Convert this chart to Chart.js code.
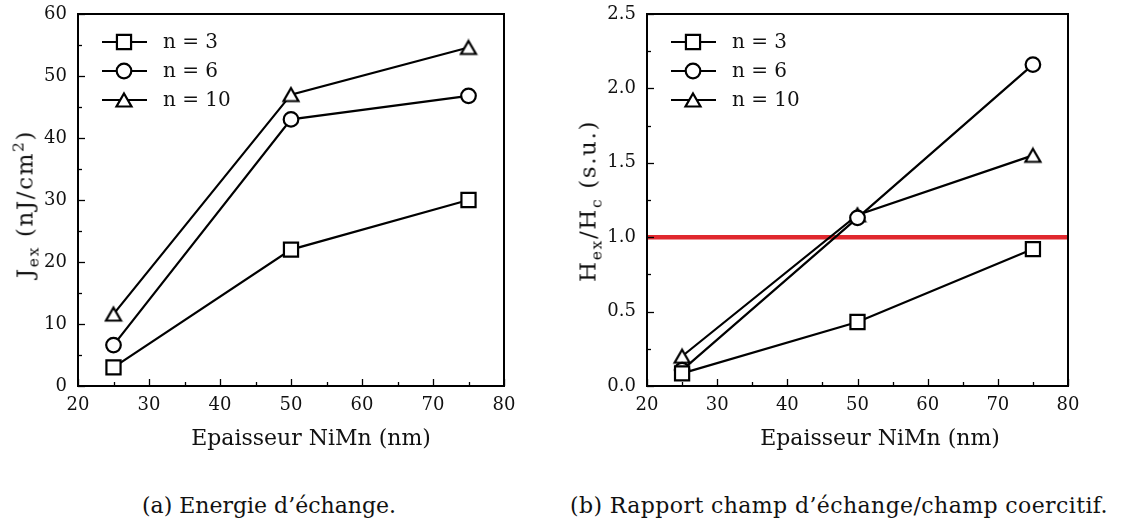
<!DOCTYPE html>
<html>
<head>
<meta charset="utf-8">
<script src="https://cdn.jsdelivr.net/npm/chart.js@4.4.1/dist/chart.umd.min.js"></script>
<style>
  body { margin: 0; background: #fff; width: 1122px; height: 524px; position: relative; overflow: hidden;
         font-family: "DejaVu Serif", "Liberation Serif", serif; color: #111; }
  .panel { position: absolute; top: 0; width: 561px; height: 460px; }
  .lbl { position: absolute; font-size: 22px; white-space: nowrap; line-height: 1;
         transform: translate(-50%, -50%); }
  .ylbl { transform: translate(-50%, -50%) rotate(-90deg); font-size: 23px; letter-spacing: 1.6px; }
  sub, sup { font-size: 0.68em; line-height: 0; }
</style>
</head>
<body>
<canvas id="chartA" class="panel" style="left:0" width="561" height="460"></canvas>
<canvas id="chartB" class="panel" style="left:561px" width="561" height="460"></canvas>

<div class="lbl ylbl" style="left:25px; top:204px">J<sub>ex</sub> (nJ/cm<sup>2</sup>)</div>
<div class="lbl ylbl" style="left:588px; top:201px">H<sub>ex</sub>/H<sub>c</sub> (s.u.)</div>
<div class="lbl" style="left:311px; top:438px">Epaisseur NiMn (nm)</div>
<div class="lbl" style="left:880px; top:438px">Epaisseur NiMn (nm)</div>
<div class="lbl" style="left:269px; top:506px">(a) Energie d’échange.</div>
<div class="lbl" style="left:839px; top:506px; letter-spacing:0.4px">(b) Rapport champ d’échange/champ coercitif.</div>

<script>
// --- data ---
const thickness = [25, 50, 75];            // Epaisseur NiMn (nm)
const seriesNames = ["n = 3", "n = 6", "n = 10"];

const jexN3 = [3.0, 22.0, 30.0];           // nJ/cm2
const jexN6 = [6.6, 43.0, 46.8];
const jexN10 = [11.6, 47.0, 54.6];

const ratioN3 = [0.085, 0.43, 0.92];       // Hex/Hc
const ratioN6 = [0.107, 1.13, 2.16];
const ratioN10 = [0.20, 1.15, 1.55];
const ratioLimit = 1.0;

const xTicks = [20, 30, 40, 50, 60, 70, 80];
const xMinorTicks = [25, 35, 45, 55, 65, 75];
const jexTicks = [0, 10, 20, 30, 40, 50, 60];
const jexMinorTicks = [5, 15, 25, 35, 45, 55];
const ratioTicks = [0, 0.5, 1.0, 1.5, 2.0, 2.5];
const ratioMinorTicks = [0.25, 0.75, 1.25, 1.75, 2.25];

const FONT = "'DejaVu Serif', 'Liberation Serif', serif";
const INK = "#111";

// triangle marker centred on its bounding box (like the original plot)
function triangleMarker() {
  const c = document.createElement("canvas");
  c.width = 20; c.height = 18;
  const g = c.getContext("2d");
  g.beginPath();
  g.moveTo(10, 2.5); g.lineTo(17.5, 15.5); g.lineTo(2.5, 15.5); g.closePath();
  g.fillStyle = "#fff"; g.fill();
  g.lineWidth = 2.2; g.strokeStyle = "#000"; g.lineJoin = "miter"; g.stroke();
  return c;
}
const markers = [
  { pointStyle: "rect", radius: 10 },
  { pointStyle: "circle", radius: 7.3 },
  { pointStyle: triangleMarker(), radius: 8 },
];

// === plugins: frame with inward ticks, legend inside plot ===

const framePlugin = {
  id: "frame",
  afterDatasetsDraw(chart, args, opts) {
    const { ctx, chartArea: a, scales } = chart;
    ctx.save();
    ctx.strokeStyle = "#000";
    ctx.lineWidth = 2;
    ctx.strokeRect(a.left, a.top, a.right - a.left, a.bottom - a.top);
    ctx.lineWidth = 1.3;
    const tick = (vals, len, axis) => {
      vals.forEach((v) => {
        ctx.beginPath();
        if (axis === "x") {
          const px = Math.round(scales.x.getPixelForValue(v)) + 0.5;
          ctx.moveTo(px, a.bottom); ctx.lineTo(px, a.bottom - len);
        } else {
          const py = Math.round(scales.y.getPixelForValue(v)) + 0.5;
          ctx.moveTo(a.left, py); ctx.lineTo(a.left + len, py);
        }
        ctx.stroke();
      });
    };
    tick(opts.xMajor, 7, "x");
    tick(opts.xMinor, 4, "x");
    tick(opts.yMajor, 7, "y");
    tick(opts.yMinor, 4, "y");
    ctx.restore();
  },
};

const legendPlugin = {
  id: "inLegend",
  afterDraw(chart) {
    const { ctx, chartArea: a } = chart;
    ctx.save();
    ctx.font = "20px " + FONT;
    ctx.textBaseline = "middle";
    seriesNames.forEach((name, i) => {
      const y = a.top + 28 + i * 29;
      ctx.strokeStyle = "#000";
      ctx.lineWidth = 2.2;
      ctx.beginPath();
      ctx.moveTo(a.left + 24, y); ctx.lineTo(a.left + 69, y);
      ctx.stroke();
      ctx.fillStyle = "#fff";
      Chart.helpers.drawPoint(ctx, {
        pointStyle: markers[i].pointStyle, radius: markers[i].radius,
        borderWidth: 2.2, rotation: 0,
      }, a.left + 46, y);
      ctx.fillStyle = INK;
      ctx.fillText(name, a.left + 85, y + 1);
    });
    ctx.restore();
  },
};

// === chart builder ===

function seriesSet(lists) {
  return lists.map((vals, i) => ({
    label: seriesNames[i],
    data: thickness.map((x, k) => ({ x, y: vals[k] })),
    borderColor: "#000",
    borderWidth: 2.2,
    pointStyle: markers[i].pointStyle,
    pointRadius: markers[i].radius,
    pointBorderWidth: 2.2,
    pointBackgroundColor: "#fff",
    pointBorderColor: "#000",
    tension: 0,
    order: 0,
  }));
}

function makeChart(id, datasets, yTicks, yMinor, yFmt, leftW, rightPad) {
  const yMin = yTicks[0], yMax = yTicks[yTicks.length - 1];
  return new Chart(document.getElementById(id), {
    type: "line",
    data: { datasets },
    options: {
      responsive: false,
      animation: false,
      devicePixelRatio: 1,
      layout: { padding: { left: 0, right: rightPad, top: 14, bottom: 0 } },
      plugins: {
        legend: { display: false },
        tooltip: { enabled: false },
        frame: { xMajor: xTicks, xMinor: xMinorTicks, yMajor: yTicks, yMinor: yMinor },
      },
      scales: {
        x: {
          type: "linear",
          min: xTicks[0],
          max: xTicks[xTicks.length - 1],
          afterBuildTicks: (s) => { s.ticks = xTicks.map((v) => ({ value: v })); },
          afterFit: (s) => { s.height = 74; s.paddingLeft = 0; s.paddingRight = 0; },
          grid: { display: false, drawTicks: false },
          border: { display: false },
          ticks: { font: { family: FONT, size: 18 }, color: INK, padding: 9, maxRotation: 0 },
        },
        y: {
          type: "linear",
          min: yMin,
          max: yMax,
          afterBuildTicks: (s) => { s.ticks = yTicks.map((v) => ({ value: v })); },
          afterFit: (s) => { s.width = leftW; s.paddingTop = 0; s.paddingBottom = 0; },
          grid: { display: false, drawTicks: false },
          border: { display: false },
          ticks: { font: { family: FONT, size: 18 }, color: INK, padding: 11, callback: yFmt },
        },
      },
    },
    plugins: [framePlugin, legendPlugin],
  });
}

// (a) exchange energy
makeChart("chartA", seriesSet([jexN3, jexN6, jexN10]),
  jexTicks, jexMinorTicks, (v) => String(v), 78, 57);

// (b) Hex/Hc ratio, with the red limit line at 1
const ratioSets = seriesSet([ratioN3, ratioN6, ratioN10]);
ratioSets.push({
  label: "",
  data: [{ x: xTicks[0], y: ratioLimit }, { x: xTicks[xTicks.length - 1], y: ratioLimit }],
  borderColor: "#e0282e",
  borderWidth: 4.5,
  pointRadius: 0,
  order: 10,
});
makeChart("chartB", ratioSets, ratioTicks, ratioMinorTicks, (v) => v.toFixed(1), 86, 54);
</script>
</body>
</html>
